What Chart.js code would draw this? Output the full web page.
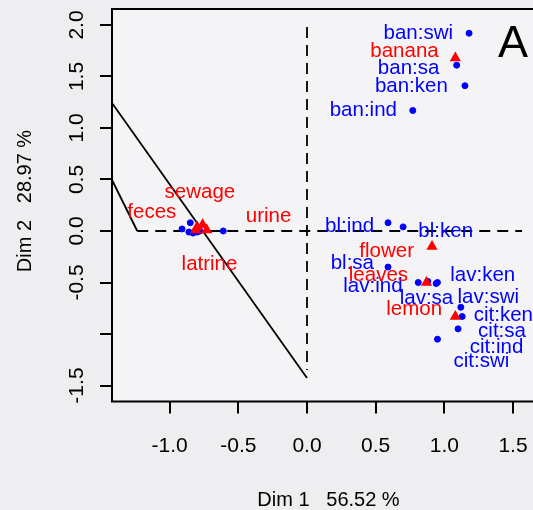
<!DOCTYPE html>
<html>
<head>
<meta charset="utf-8">
<script src="https://cdn.jsdelivr.net/npm/chart.js@4.4.0/dist/chart.umd.min.js"></script>
<style>
html, body { margin: 0; padding: 0; background: #eeeef0; overflow: hidden; }
#wrap { width: 560px; height: 510px; }
</style>
</head>
<body>
<div id="wrap"><canvas id="caChart" width="560" height="510"></canvas></div>
<script>
// Row points (blue) and where their labels sit, in data units
const rowNames  = ['ban:swi', 'ban:sa', 'ban:ken', 'ban:ind', 'bl:ind', 'bl:ken', 'bl:sa',
                   'lav:ind', 'lav:ken', 'lav:sa', 'lav:swi', 'cit:ken', 'cit:sa', 'cit:ind', 'cit:swi'];
const rowX      = [1.18, 1.09, 1.15, 0.77, 0.59, 0.70, 0.59, 0.81, 0.88, 0.95, 0.94, 1.12, 1.13, 1.10, 0.95];
const rowY      = [1.92, 1.61, 1.41, 1.17, 0.08, 0.04, -0.35, -0.50, -0.49, -0.50, -0.51, -0.74, -0.83, -0.95, -1.05];
const rowLabelX = [0.81, 0.74, 0.76, 0.41, 0.31, 1.01, 0.33, 0.48, 1.28, 0.87, 1.32, 1.43, 1.42, 1.38, 1.27];
const rowLabelY = [1.92, 1.58, 1.40, 1.17, 0.05, 0.00, -0.31, -0.54, -0.43, -0.65, -0.64, -0.82, -0.97, -1.13, -1.27];

// unlabelled rows in the cluster left of the origin
const clusterX = [-0.91, -0.85, -0.86, -0.83, -0.80, -0.78, -0.61];
const clusterY = [0.02, 0.08, -0.01, -0.02, -0.01, 0.00, 0.00];

// Column points (red triangles)
const colNames  = ['banana', 'flower', 'leaves', 'lemon', 'sewage', 'feces', 'urine', 'latrine'];
const colX      = [1.08, 0.91, 0.87, 1.08, -0.76, -0.80, -0.73, -0.81];
const colY      = [1.68, -0.15, -0.50, -0.83, 0.06, 0.04, 0.01, 0.01];
const colLabelX = [0.71, 0.58, 0.52, 0.78, -0.78, -1.13, -0.28, -0.71];
const colLabelY = [1.74, -0.20, -0.43, -0.76, 0.38, 0.18, 0.14, -0.32];

// Ticks
const xTicks = [-1, -0.5, 0, 0.5, 1, 1.5];
const xTickLabels = ['-1.0', '-0.5', '0.0', '0.5', '1.0', '1.5'];
const yTicks = [-1.5, -1, -0.5, 0, 0.5, 1, 1.5, 2];
const yTickLabels = ['-1.5', '', '-0.5', '0.0', '0.5', '1.0', '1.5', '2.0'];

// Reference lines
const line1X = [-1.42, 0];
const line1Y = [1.243, -1.427];
const line2X = [-1.42, -1.236];
const line2Y = [0.495, 0];
const hDashX = [-1.236, 1.566];
const hDashY = [0, 0];
const vDashX = [0, 0];
const vDashY = [1.98, -1.35];

const FONT = '"Liberation Sans", Arial, sans-serif';

function pts(xs, ys) {
    return xs.map((x, i) => ({ x: x, y: ys[i] }));
}

const labelPlugin = {
    id: 'caLabels',
    beforeDraw(chart) {
        const a = chart.chartArea;
        const ctx = chart.ctx;
        ctx.save();
        ctx.fillStyle = '#f4f4f6';
        ctx.fillRect(a.left, a.top, a.right - a.left, a.bottom - a.top);
        ctx.restore();
    },
    afterDatasetsDraw(chart) {
        const ctx = chart.ctx;
        const xs = chart.scales.x, ys = chart.scales.y;
        ctx.save();
        ctx.font = '20.5px ' + FONT;
        ctx.textAlign = 'center';
        ctx.textBaseline = 'middle';
        ctx.fillStyle = '#0000ff';
        rowNames.forEach((n, i) => {
            ctx.fillText(n, xs.getPixelForValue(rowLabelX[i]), ys.getPixelForValue(rowLabelY[i]));
        });
        ctx.fillStyle = '#ff0000';
        colNames.forEach((n, i) => {
            ctx.fillText(n, xs.getPixelForValue(colLabelX[i]), ys.getPixelForValue(colLabelY[i]));
        });
        ctx.restore();
    },
    afterDraw(chart) {
        const ctx = chart.ctx;
        const a = chart.chartArea;
        const xs = chart.scales.x, ys = chart.scales.y;
        ctx.save();
        // box
        ctx.strokeStyle = '#000';
        ctx.lineWidth = 2;
        ctx.strokeRect(a.left, a.top, a.right - a.left, a.bottom - a.top);

        ctx.fillStyle = '#000';
        ctx.font = '21px ' + FONT;
        ctx.textBaseline = 'alphabetic';
        ctx.textAlign = 'center';
        // x tick labels
        xTicks.forEach((v, i) => {
            ctx.fillText(xTickLabels[i], xs.getPixelForValue(v), 452);
        });
        // y tick labels, rotated
        yTicks.forEach((v, i) => {
            if (!yTickLabels[i]) return;
            ctx.save();
            ctx.translate(83, ys.getPixelForValue(v));
            ctx.rotate(-Math.PI / 2);
            ctx.fillText(yTickLabels[i], 0, 0);
            ctx.restore();
        });
        // axis titles
        ctx.font = '20px ' + FONT;
        ctx.fillText('Dim 1   56.52 %', (a.left + a.right) / 2, 506);
        ctx.save();
        ctx.translate(31, 201);
        ctx.rotate(-Math.PI / 2);
        ctx.fillText('Dim 2   28.97 %', 0, 0);
        ctx.restore();
        // panel letter
        ctx.font = '45px ' + FONT;
        ctx.fillText('A', 513, 57);
        ctx.restore();
    }
};

const tickGrid = {
    display: true,
    drawOnChartArea: false,
    drawTicks: true,
    tickLength: 12,
    color: '#000',
    lineWidth: 2
};

new Chart(document.getElementById('caChart'), {
    type: 'scatter',
    data: {
        datasets: [
            {
                data: pts(line1X, line1Y), showLine: true, pointRadius: 0,
                borderColor: '#000', borderWidth: 1.8, order: 5
            },
            {
                data: pts(line2X, line2Y), showLine: true, pointRadius: 0,
                borderColor: '#000', borderWidth: 1.8, order: 5
            },
            {
                data: pts(hDashX, hDashY), showLine: true, pointRadius: 0,
                borderColor: '#000', borderWidth: 1.8, borderDash: [11, 7], order: 5
            },
            {
                data: pts(vDashX, vDashY), showLine: true, pointRadius: 0,
                borderColor: '#000', borderWidth: 1.8, borderDash: [11, 7], order: 5
            },
            {
                data: pts(rowX, rowY), pointStyle: 'circle', pointRadius: 3,
                backgroundColor: '#0000ff', borderColor: '#0000ff', order: 2
            },
            {
                data: pts(clusterX, clusterY), pointStyle: 'circle', pointRadius: 3,
                backgroundColor: '#0000ff', borderColor: '#0000ff', order: 2
            },
            {
                data: pts(colX, colY), pointStyle: 'triangle', pointRadius: 6.5,
                backgroundColor: '#ff0000', borderColor: '#ff0000', borderWidth: 0, order: 1
            }
        ]
    },
    options: {
        responsive: false,
        animation: false,
        devicePixelRatio: 1,
        layout: { padding: { top: 9, right: 15, left: 0, bottom: 0 } },
        plugins: {
            legend: { display: false },
            tooltip: { enabled: false }
        },
        scales: {
            x: {
                type: 'linear',
                min: -1.42,
                max: 1.733,
                afterBuildTicks: s => { s.ticks = xTicks.map(v => ({ value: v })); },
                afterFit: s => { s.height = 108.5; },
                ticks: { display: false },
                grid: tickGrid,
                border: { display: false }
            },
            y: {
                type: 'linear',
                min: -1.655,
                max: 2.155,
                afterBuildTicks: s => { s.ticks = yTicks.map(v => ({ value: v })); },
                afterFit: s => { s.width = 112; },
                ticks: { display: false },
                grid: tickGrid,
                border: { display: false }
            }
        }
    },
    plugins: [labelPlugin]
});
</script>
</body>
</html>
